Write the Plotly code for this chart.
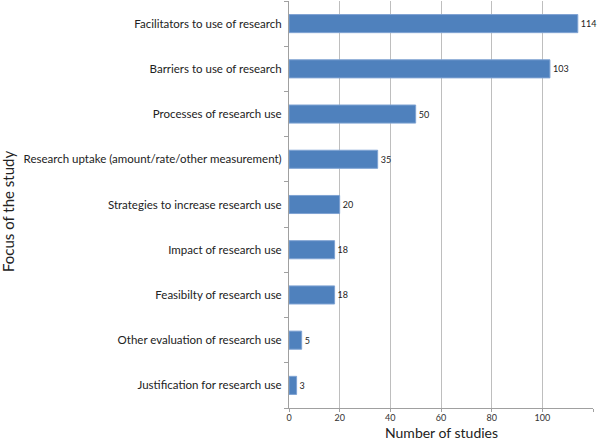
import plotly.graph_objects as go

categories = [
    "Facilitators to use of research",
    "Barriers to use of research",
    "Processes of research use",
    "Research uptake (amount/rate/other measurement)",
    "Strategies to increase research use",
    "Impact of research use",
    "Feasibilty of research use",
    "Other evaluation of research use",
    "Justification for research use",
]
values = [114, 103, 50, 35, 20, 18, 18, 5, 3]
x_ticks = [0, 20, 40, 60, 80, 100, 120]

font_family = "Lato, Open Sans, sans-serif"

L, R, T, B = 289, 7, 1, 32
PW = 600 - L - R
PH = 440 - T - B

fig = go.Figure(go.Bar(
    y=categories,
    x=values,
    orientation="h",
    marker=dict(color="#4F81BD", line=dict(color="#7FA3D3", width=1)),
    text=[str(v) for v in values],
    textposition="outside",
    textfont=dict(size=9, color="#222", family=font_family),
    cliponaxis=False,
    width=0.4,
))

fig.update_layout(
    width=600, height=440,
    margin=dict(l=L, r=R, t=T, b=B),
    paper_bgcolor="white", plot_bgcolor="white",
    showlegend=False,
    font=dict(family=font_family, color="#222"),
    bargap=0.6,
)
fig.update_xaxes(
    range=[0, 120], tickvals=x_ticks, ticktext=[str(t) for t in x_ticks],
    showgrid=True, gridcolor="#BEBEBE", gridwidth=1,
    showline=True, linecolor="#A0A0A0", linewidth=1,
    ticks="outside", ticklen=3, tickcolor="#A0A0A0",
    tickfont=dict(size=9, color="#333"),
    ticklabelstandoff=-2,
    zeroline=False, automargin=False,
)
fig.update_yaxes(
    categoryorder="array", categoryarray=categories[::-1],
    showline=True, linecolor="#A0A0A0", linewidth=1,
    ticks="outside", tickson="boundaries", ticklen=4, tickcolor="#A0A0A0",
    tickfont=dict(size=11.5, color="#222"),
    ticklabelstandoff=4, automargin=False,
)
fig.add_annotation(
    text="Focus of the study", textangle=-90,
    xref="paper", yref="paper", x=-(L - 8) / PW, y=(440 - B - 212) / PH,
    xanchor="center", yanchor="middle", showarrow=False,
    font=dict(size=15, color="#222", family=font_family),
)
fig.add_annotation(
    text="Number of studies",
    xref="paper", yref="paper", x=(441 - L) / PW, y=-(433 - (440 - B)) / PH,
    xanchor="center", yanchor="middle", showarrow=False,
    font=dict(size=14, color="#222", family=font_family),
)

fig.write_html(
    "out.html",
    config={"displayModeBar": False},
    post_script="document.body.style.margin='0';document.body.style.padding='0';",
)
